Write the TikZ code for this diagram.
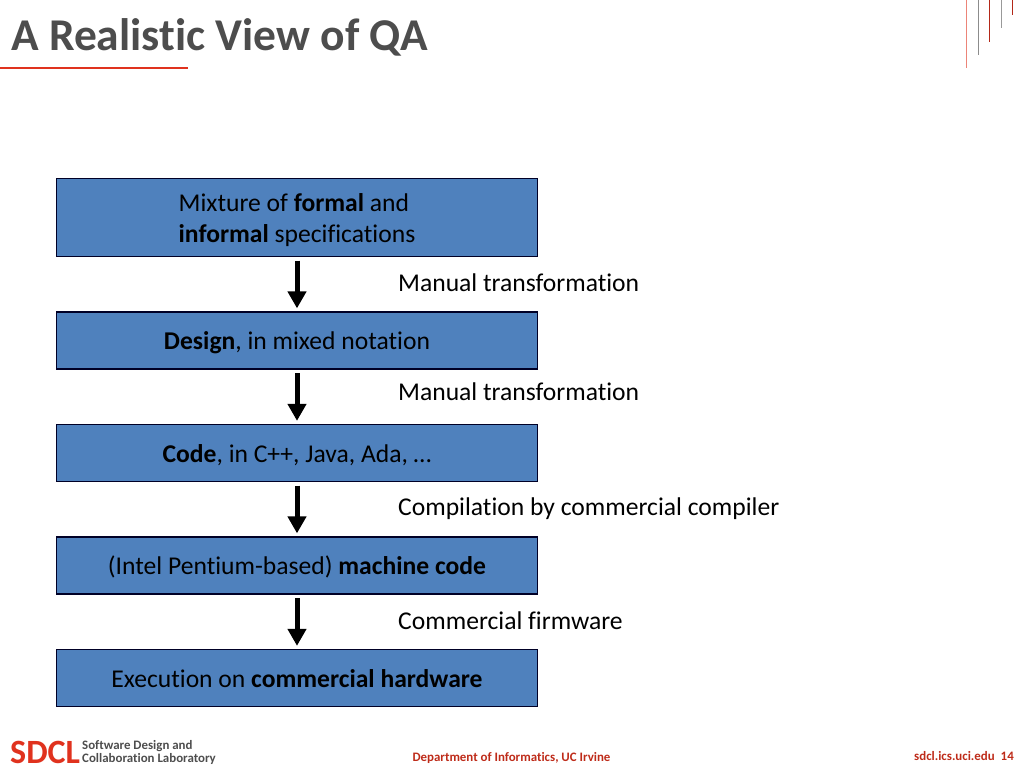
\documentclass[tikz,border=0pt]{standalone}
\usepackage{fontspec}
\usepackage{xcolor}
\setmainfont{Carlito}[Ligatures=CommonOff]
\usetikzlibrary{arrows.meta, positioning}
\definecolor{boxblue}{HTML}{4F81BD}
\definecolor{sdclred}{HTML}{E0321E}
\definecolor{titlegray}{HTML}{4D4D4D}
\tikzset{
    stage/.style={rectangle, draw=black!85!blue, line width=1.3pt, fill=boxblue, text=black, minimum width=481pt, font=\fontsize{25.6}{31}\selectfont, inner sep=0pt, text height=21.6pt, text depth=3.4pt},
    flow/.style={line width=5pt, -{Triangle[length=17pt, width=18pt]}, shorten >=3pt, shorten <=3.5pt},
    note/.style={anchor=west, inner sep=0pt, font=\fontsize{25.6}{29}\selectfont, text=black, text height=16pt, text depth=0pt},
    foot/.style={inner sep=0pt, font=\fontsize{12.9}{13}\selectfont\bfseries},
}
\begin{document}
\begin{tikzpicture}[x=1pt, y=-1pt]
        \useasboundingbox (0, 0) rectangle (1024, 768);

        \node[anchor=west, inner sep=0pt, text=titlegray, font=\fontsize{45.5}{48}\selectfont\bfseries] (title) at (11, 37) {A Realistic View of QA};
        \coordinate (ruleleft) at (0, 68);
        \coordinate (ruleright) at (188, 68);
        \draw[sdclred, line width=1.5pt] (ruleleft) to (ruleright);

        \draw[sdclred!60, line width=1pt] (966.5, 0) to (966.5, 68);
        \draw[black!45, line width=1pt] (978.5, 0) to (978.5, 55);
        \draw[sdclred!80!black, line width=1pt] (989.5, 0) to (989.5, 42);
        \draw[black!40, line width=1pt] (1001, 0) to (1001, 28);
        \draw[sdclred!80!black, line width=1pt] (1012.5, 0) to (1012.5, 15);

        \node[stage, minimum height=78pt, text height=40.5pt, text depth=20.5pt] (spec) at (297, 217.5) {\begin{tabular}{@{}l@{}}Mixture of \textbf{formal} and\\\textbf{informal} specifications\end{tabular}};
        \node[stage, minimum height=57pt] (design) at (297, 340.5) {\textbf{Design}, in mixed notation};
        \node[stage, minimum height=57pt] (code) at (297, 453) {\textbf{Code}, in C++, Java, Ada, …};
        \node[stage, minimum height=57pt] (machine) at (297, 565.5) {(Intel Pentium-based) \textbf{machine code}};
        \node[stage, minimum height=57pt] (exec) at (297, 678) {Execution on \textbf{commercial hardware}};

        \draw[flow] (spec) to (design);
        \draw[flow] (design) to (code);
        \draw[flow] (code) to (machine);
        \draw[flow] (machine) to (exec);

        \node[note] (manualone) at (398, 283) {Manual transformation};
        \node[note] (manualtwo) at (398, 392) {Manual transformation};
        \node[note] (compile) at (398, 507.5) {Compilation by commercial compiler};
        \node[note] (firmware) at (398, 621) {Commercial firmware};

        \node[anchor=west, inner sep=0pt, text=sdclred, font=\fontsize{34}{34}\selectfont\bfseries] (sdcl) at (10, 752) {SDCL};
        \node[anchor=west, foot, text=titlegray, align=left] (lab) at (82, 752) {Software Design and\\Collaboration Laboratory};
        \node[foot, text=sdclred!85!black] (dept) at (511.5, 758) {Department of Informatics, UC Irvine};
        \node[foot, anchor=east, text=sdclred!85!black] (site) at (1014, 756) {sdcl.ics.uci.edu\hspace{6pt}14};
    \end{tikzpicture}
\end{document}
